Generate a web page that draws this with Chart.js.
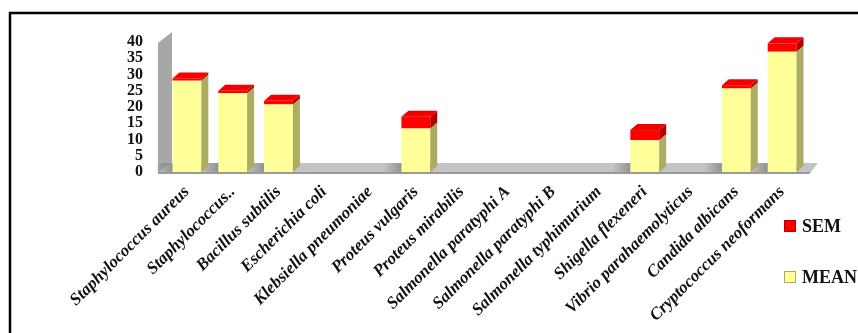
<!DOCTYPE html>
<html>
<head>
<meta charset="utf-8">
<script src="https://cdn.jsdelivr.net/npm/chart.js@4.4.1/dist/chart.umd.min.js"></script>
<style>
  html, body { margin: 0; padding: 0; background: #ffffff; }
  #wrap { width: 858px; height: 333px; position: relative; }
</style>
</head>
<body>
<div id="wrap"><canvas id="chart" width="858" height="333"></canvas></div>
<script>
// Test organisms (x categories)
const organisms = [
  'Staphylococcus aureus',
  'Staphylococcus..',
  'Bacillus subtilis',
  'Escherichia coli',
  'Klebsiella pneumoniae',
  'Proteus vulgaris',
  'Proteus mirabilis',
  'Salmonella paratyphi A',
  'Salmonella paratyphi B',
  'Salmonella typhimurium',
  'Shigella flexeneri',
  'Vibrio parahaemolyticus',
  'Candida albicans',
  'Cryptococcus neoformans'
];

// Mean zone of inhibition and its standard error
const meanValues = [28.1, 24.2, 20.8, 0, 0, 13.4, 0, 0, 0, 0, 9.8, 0, 25.7, 37.0];
const semValues  = [0.7, 0.8, 1.1, 0, 0, 3.6, 0, 0, 0, 0, 3.1, 0, 1.0, 2.6];

// Value axis
const yMin = 0;
const yMax = 40;
const yStep = 5;

const serif = "'Liberation Serif', 'DejaVu Serif', serif";

// Colours: front, side, top for each series
const palette = {
  MEAN: { front: '#ffff99', side: '#acac62', top: '#f4f48c' },
  SEM:  { front: '#ff0000', side: '#b80000', top: '#f20000' }
};

// Depth offsets for the pseudo-3D look
const barDepth = { dx: 7, dy: 6 };

const frame3d = {
  id: 'frame3d',
  beforeDatasetsDraw(chart) {
    const { ctx, chartArea: a } = chart;
    ctx.save();
    // back/left wall
    ctx.fillStyle = '#a7a7a7';
    ctx.beginPath();
    ctx.moveTo(a.left - 6, a.top + 1);
    ctx.lineTo(a.left + 8, a.top - 10);
    ctx.lineTo(a.left + 8, a.bottom - 8);
    ctx.lineTo(a.left - 6, a.bottom + 2);
    ctx.closePath();
    ctx.fill();
    // floor
    ctx.fillStyle = '#c4c4c4';
    ctx.beginPath();
    ctx.moveTo(a.left - 6, a.bottom);
    ctx.lineTo(a.left + 6, a.bottom - 9);
    ctx.lineTo(a.right + 13, a.bottom - 9);
    ctx.lineTo(a.right + 6, a.bottom);
    ctx.closePath();
    ctx.fill();
    // soft shadows cast by the bars on the floor
    const meta = chart.getDatasetMeta(0);
    meta.data.forEach((el, i) => {
      if (!(chart.data.datasets[0].data[i] > 0)) return;
      const p = el.getProps(['x', 'width'], true);
      const left = p.x - p.width / 2;
      const g = ctx.createLinearGradient(left - 18, 0, left + 4, 0);
      g.addColorStop(0, 'rgba(60,60,60,0)');
      g.addColorStop(1, 'rgba(60,60,60,0.45)');
      ctx.fillStyle = g;
      ctx.fillRect(left - 18, a.bottom - 9, 22, 9);
    });
    // floor front edge
    ctx.fillStyle = '#9a9a9a';
    ctx.beginPath();
    ctx.moveTo(a.left - 6, a.bottom);
    ctx.lineTo(a.right + 6, a.bottom);
    ctx.lineTo(a.right + 4, a.bottom + 2);
    ctx.lineTo(a.left - 6, a.bottom + 2);
    ctx.closePath();
    ctx.fill();
    ctx.restore();
  },
  afterDatasetsDraw(chart) {
    const { ctx } = chart;
    const n = chart.data.labels.length;
    const dsCount = chart.data.datasets.length;
    ctx.save();
    for (let i = 0; i < n; i++) {
      let topIdx = -1;
      for (let d = 0; d < dsCount; d++) {
        if (chart.data.datasets[d].data[i] > 0) topIdx = d;
      }
      for (let d = 0; d < dsCount; d++) {
        const ds = chart.data.datasets[d];
        if (!(ds.data[i] > 0)) continue;
        const el = chart.getDatasetMeta(d).data[i];
        const p = el.getProps(['x', 'y', 'base', 'width'], true);
        const left = p.x - p.width / 2;
        const right = p.x + p.width / 2;
        const top = Math.min(p.y, p.base);
        const bottom = Math.max(p.y, p.base);
        const col = palette[ds.label];
        // right side face
        ctx.fillStyle = col.side;
        ctx.beginPath();
        ctx.moveTo(right, top);
        ctx.lineTo(right + barDepth.dx, top - barDepth.dy);
        ctx.lineTo(right + barDepth.dx, bottom - barDepth.dy);
        ctx.lineTo(right, bottom);
        ctx.closePath();
        ctx.fill();
        // top face on the highest segment
        if (d === topIdx) {
          ctx.fillStyle = col.top;
          ctx.beginPath();
          ctx.moveTo(left, top);
          ctx.lineTo(left + barDepth.dx, top - barDepth.dy);
          ctx.lineTo(right + barDepth.dx, top - barDepth.dy);
          ctx.lineTo(right, top);
          ctx.closePath();
          ctx.fill();
        }
      }
    }
    ctx.restore();
  },
  afterDraw(chart) {
    const { ctx, chartArea: a } = chart;
    ctx.save();
    // outer frame
    ctx.strokeStyle = '#000000';
    ctx.lineWidth = 2.5;
    ctx.strokeRect(10, 13, 900, 400);
    // legend, last series listed first
    const items = chart.data.datasets.slice().reverse();
    const lx = a.right - 21;
    let ly = 220;
    ctx.font = `bold 18px ${serif}`;
    ctx.textBaseline = 'middle';
    ctx.textAlign = 'left';
    items.forEach((ds) => {
      const col = palette[ds.label];
      ctx.fillStyle = col.side;
      ctx.fillRect(lx, ly, 12, 12);
      ctx.fillStyle = col.front;
      ctx.fillRect(lx + 1, ly + 1, 10, 10);
      ctx.fillStyle = '#111111';
      ctx.fillText(ds.label, lx + 18, ly + 7);
      ly += 51;
    });
    ctx.restore();
  }
};

new Chart(document.getElementById('chart'), {
  type: 'bar',
  data: {
    labels: organisms,
    datasets: [
      { label: 'MEAN', data: meanValues, backgroundColor: palette.MEAN.front, borderWidth: 0,
        barPercentage: 0.63, categoryPercentage: 1.0 },
      { label: 'SEM', data: semValues, backgroundColor: palette.SEM.front, borderWidth: 0,
        barPercentage: 0.63, categoryPercentage: 1.0 }
    ]
  },
  options: {
    responsive: false,
    animation: false,
    devicePixelRatio: 1,
    layout: { padding: { top: 42, right: 53, left: 0, bottom: 0 } },
    plugins: {
      legend: { display: false },
      tooltip: { enabled: false }
    },
    scales: {
      x: {
        stacked: true,
        grid: { display: false, drawTicks: false },
        border: { display: false },
        ticks: {
          autoSkip: false,
          minRotation: 45,
          maxRotation: 45,
          padding: 10,
          color: '#111111',
          font: { family: serif, size: 17, style: 'italic', weight: 'bold' }
        },
        afterFit(scale) { scale.height = 161; }
      },
      y: {
        stacked: true,
        min: yMin,
        max: yMax,
        grid: { display: false, drawTicks: false },
        border: { display: false },
        ticks: {
          stepSize: yStep,
          autoSkip: false,
          padding: 21,
          color: '#111111',
          font: { family: serif, size: 16, weight: 'bold' }
        },
        afterFit(scale) { scale.width = 164; }
      }
    }
  },
  plugins: [frame3d]
});
</script>
</body>
</html>
